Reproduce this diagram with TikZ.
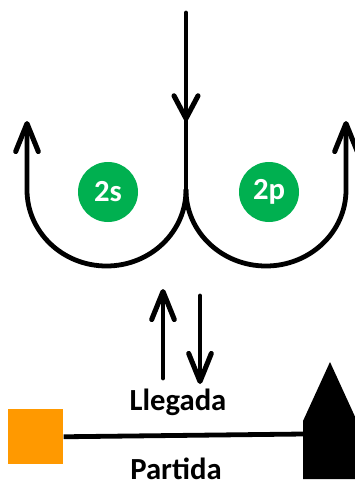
\documentclass[tikz,border=0pt]{standalone}
\usepackage{fontspec}
\setmainfont{Carlito}
\usetikzlibrary{arrows.meta}
\definecolor{grn}{HTML}{00B050}
\definecolor{org}{HTML}{FF9900}
\begin{document}
\begin{tikzpicture}[x=0.75pt,y=-0.75pt,
  thick line/.style={line width=3.6pt,line cap=round},
  barb/.style={-{Straight Barb[length=21pt,width=17pt,round,line width=3.8pt]}},
  midbarb/.style={-{Straight Barb[length=17pt,width=18pt,round,line width=3.8pt]}},
  orb/.style={circle,fill=grn,minimum size=45pt,inner sep=0pt,text=white,font=\fontsize{23}{25}\selectfont\bfseries},
  lbl/.style={anchor=base,inner sep=0pt,font=\fontsize{23}{26}\selectfont\bfseries}]
\useasboundingbox (0,0) rectangle (354,486);
% nodes
\coordinate (top) at (186,13);
\coordinate (mid) at (186,121);
\coordinate (join) at (186,190);
\coordinate (ltip) at (27,121);
\coordinate (rtip) at (346,121);
\node[orb] (s) at (108,192) {2s};
\node[orb] (p) at (269,192) {2p};
% top path
\draw[thick line,midbarb] (top) -- (mid);
\draw[thick line] (mid) -- (join);
\draw[thick line,barb] (join) arc[start angle=0,end angle=180,x radius=79.5,y radius=76] -- (ltip);
\draw[thick line,barb] (join) arc[start angle=180,end angle=0,x radius=80,y radius=76] -- (rtip);
% bottom arrows
\coordinate (ua) at (163,378);
\coordinate (ub) at (163,289);
\coordinate (da) at (200,296);
\coordinate (db) at (200,384);
\draw[thick line,barb] (ua) -- (ub);
\draw[thick line,barb] (da) -- (db);
% labels
\node[lbl] (lleg) at (178,410) {Llegada};
\node[lbl] (part) at (176,479) {Partida};
% square and house
\node[fill=org,minimum size=41.25pt,inner sep=0pt,anchor=north west] (sq) at (8,409) {};
\fill (303,479) -- (303,421) -- (330,362) -- (357,421) -- (357,479) -- cycle;
\coordinate (house) at (304,434);
\draw[thick line,line cap=butt] (sq.east) -- (house);
\end{tikzpicture}
\end{document}
